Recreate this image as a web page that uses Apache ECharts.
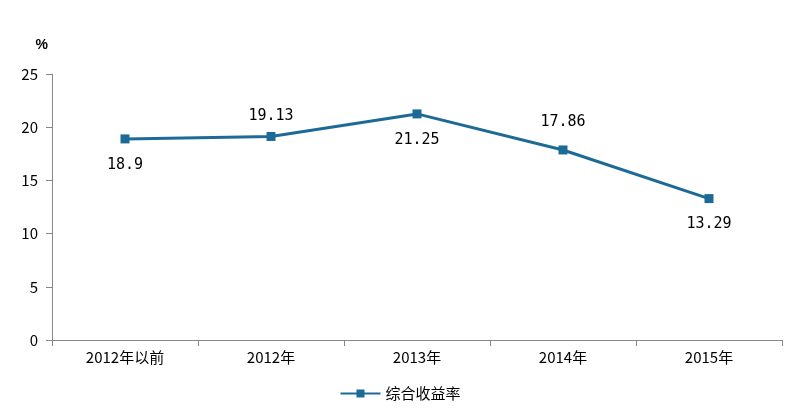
<!DOCTYPE html>
<html><head><meta charset="utf-8">
<script src="https://cdn.jsdelivr.net/npm/echarts@6/dist/echarts.min.js"></script>
<style>body{margin:0}#c{width:800px;height:408px}</style></head>
<body><div id="c"></div>
<script>
const categories = ['2012年以前','2012年','2013年','2014年','2015年'];
const values = [18.9, 19.13, 21.25, 17.86, 13.29];
const labelPos = ['bottom','top','bottom','top','bottom'];
const labelDist = [14, 8, 14, 16, 14];
const chart = echarts.init(document.getElementById('c'));
const font = '"Noto Sans CJK SC", sans-serif';
chart.setOption({
  animation:false,
  grid:{left:52,right:18,top:74,bottom:68},
  legend:{bottom:2,left:'center',itemWidth:40,itemHeight:10,textStyle:{fontSize:15,color:'#000',fontFamily:font},data:['综合收益率']},
  xAxis:{type:'category',data:categories,boundaryGap:true,
    axisLine:{lineStyle:{color:'#888'}},axisTick:{show:true,inside:false,lineStyle:{color:'#888'},length:6},
    axisLabel:{color:'#000',fontSize:15,fontFamily:font,margin:10}},
  yAxis:{type:'value',min:0,max:25,interval:5,name:'%',nameLocation:'end',nameGap:22,
    nameTextStyle:{color:'#000',fontSize:14,fontWeight:'bold',align:'right',padding:[0,4,0,0]},
    axisLine:{show:true,lineStyle:{color:'#888'}},axisTick:{show:true,lineStyle:{color:'#888'},length:6},
    splitLine:{show:false},axisLabel:{color:'#000',fontSize:15,fontFamily:font,margin:14}},
  series:[{name:'综合收益率',type:'line',symbol:'rect',symbolSize:9,
    lineStyle:{color:'#1d6a97',width:3},itemStyle:{color:'#1d6a97'},
    data:values.map((v,i)=>({value:v,label:{show:true,position:labelPos[i],distance:labelDist[i],color:'#000',fontSize:15,fontFamily:'"DejaVu Sans Mono", monospace'}}))}]
});
</script></body></html>
